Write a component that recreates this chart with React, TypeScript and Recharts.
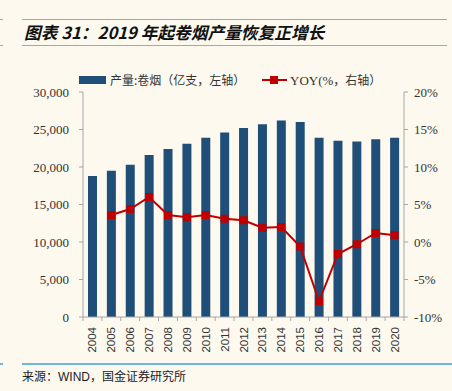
import { ComposedChart, Bar, Line, XAxis, YAxis } from "recharts";

const years = ["2004", "2005", "2006", "2007", "2008", "2009", "2010", "2011", "2012", "2013", "2014", "2015", "2016", "2017", "2018", "2019", "2020"];
const output = [18800, 19500, 20300, 21600, 22400, 23100, 23900, 24600, 25200, 25700, 26200, 26000, 23900, 23500, 23400, 23700, 23900];
const yoy = [null, 3.6, 4.4, 6.0, 3.6, 3.3, 3.6, 3.1, 2.9, 1.9, 2.0, -0.6, -7.9, -1.6, -0.3, 1.2, 0.9];
const leftTicks = [0, 5000, 10000, 15000, 20000, 25000, 30000];
const rightTicks = [-10, -5, 0, 5, 10, 15, 20];

const data = years.map((y, i) => ({ year: y, output: output[i], yoy: yoy[i] }));

const BLUE = "#1f4e79";
const RED = "#c00000";
const AXIS = "#a6a6a6";
const BG = "#fdf9ee";
const RULE = "#6fb6e0";

const half = (404 - 83) / years.length / 2;

function YearTick(props: any) {
  const { x, y, payload, index } = props;
  return (
    <g>
      <line x1={x - half} x2={x - half} y1={y - 8} y2={y - 4} stroke={AXIS} />
      {index === years.length - 1 && (
        <line x1={x + half} x2={x + half} y1={y - 8} y2={y - 4} stroke={AXIS} />
      )}
      <text
        x={0}
        y={0}
        transform={`translate(${x + 4},${y + 2}) rotate(-90)`}
        textAnchor="end"
        fontSize={11.5}
        fontFamily="Liberation Sans, Arial, sans-serif"
        fill="#333"
      >
        {payload.value}
      </text>
    </g>
  );
}

function SquareDot(props: any) {
  const { cx, cy, value } = props;
  if (value == null || cx == null || cy == null) return null;
  return <rect x={cx - 4} y={cy - 4} width={8} height={8} fill={RED} />;
}

export default function App() {
  return (
    <div style={{ position: "absolute", left: 0, top: 0, width: 452, height: 391, background: BG, overflow: "hidden" }}>
      <div style={{ position: "absolute", left: 0, top: 19, width: 3, height: 1, background: RULE }} />
      <div style={{ position: "absolute", left: 22, top: 19, width: 425, height: 1, background: RULE }} />
      <div style={{ position: "absolute", left: 0, top: 45, width: 3, height: 1, background: RULE }} />
      <div style={{ position: "absolute", left: 22, top: 45, width: 425, height: 1, background: RULE }} />
      <div
        style={{
          position: "absolute",
          left: 24,
          top: 22,
          fontFamily: "'Noto Sans CJK SC', sans-serif",
          fontWeight: 700,
          fontStyle: "italic",
          fontSize: 16.7,
          lineHeight: "20px",
          color: "#111",
          whiteSpace: "nowrap",
        }}
      >
        图表 31：2019 年起卷烟产量恢复正增长
      </div>

      <div style={{ position: "absolute", left: 0, top: 0 }}>
        <ComposedChart width={452} height={360} data={data} margin={{ top: 92, right: 0, bottom: 0, left: 0 }}>
          <XAxis
            dataKey="year"
            height={43}
            axisLine={{ stroke: AXIS }}
            tickLine={false}
            interval={0}
            tick={<YearTick />}
          />
          <YAxis
            yAxisId="left"
            width={83}
            domain={[0, 30000]}
            ticks={leftTicks}
            tickFormatter={(v: number) => v.toLocaleString("en-US")}
            axisLine={{ stroke: AXIS }}
            tickLine={{ stroke: AXIS }}
            tickSize={4}
            tickMargin={10}
            tick={{ fontSize: 13, fill: "#333", fontFamily: "Liberation Serif, Times New Roman, serif" }}
          />
          <YAxis
            yAxisId="right"
            orientation="right"
            width={48}
            domain={[-10, 20]}
            ticks={rightTicks}
            tickFormatter={(v: number) => `${v}%`}
            axisLine={{ stroke: AXIS }}
            tickLine={{ stroke: AXIS }}
            tickSize={4}
            tickMargin={6}
            tick={{ fontSize: 13, fill: "#333", fontFamily: "Liberation Serif, Times New Roman, serif" }}
          />
          <Bar yAxisId="left" dataKey="output" fill={BLUE} barSize={9} isAnimationActive={false} />
          <Line
            yAxisId="right"
            dataKey="yoy"
            stroke={RED}
            strokeWidth={2}
            dot={<SquareDot />}
            activeDot={false}
            connectNulls={false}
            isAnimationActive={false}
          />
        </ComposedChart>
      </div>

      <div style={{ position: "absolute", left: 79, top: 76, width: 27, height: 8, background: BLUE }} />
      <div
        style={{
          position: "absolute",
          left: 110,
          top: 72,
          fontFamily: "'Noto Sans CJK SC', sans-serif",
          fontSize: 12,
          lineHeight: "16px",
          color: "#333",
          whiteSpace: "nowrap",
        }}
      >
        产量:卷烟（亿支，左轴）
      </div>
      <div style={{ position: "absolute", left: 262, top: 79, width: 25, height: 2, background: RED }} />
      <div style={{ position: "absolute", left: 270, top: 76, width: 8, height: 8, background: RED }} />
      <div
        style={{
          position: "absolute",
          left: 290,
          top: 72,
          fontFamily: "'Liberation Serif', 'Noto Sans CJK SC', serif",
          fontSize: 13,
          lineHeight: "16px",
          color: "#333",
          whiteSpace: "nowrap",
        }}
      >
        YOY(%<span style={{ fontFamily: "'Noto Sans CJK SC', sans-serif", fontSize: 12 }}>，右轴）</span>
      </div>

      <div style={{ position: "absolute", left: 0, top: 363, width: 3, height: 2, background: RULE }} />
      <div style={{ position: "absolute", left: 22, top: 363, width: 430, height: 2, background: RULE }} />
      <div
        style={{
          position: "absolute",
          left: 22,
          top: 368,
          fontFamily: "'Noto Sans CJK SC', sans-serif",
          fontSize: 12,
          lineHeight: "16px",
          color: "#222",
          whiteSpace: "nowrap",
        }}
      >
        来源：<span style={{ fontFamily: "'Liberation Sans', Arial, sans-serif" }}>WIND</span>，国金证券研究所
      </div>
    </div>
  );
}
